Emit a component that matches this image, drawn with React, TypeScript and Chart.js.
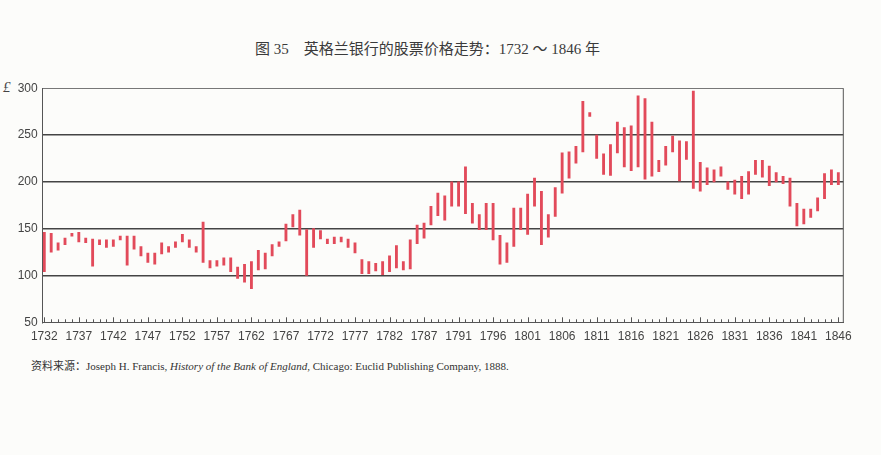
import { useEffect, useRef } from "react";
import { Chart, registerables } from "chart.js";

Chart.register(...registerables);

// one bar per year, 1732 onward (116 bars as printed)
const lows = [
  104, 125, 127, 133, 142, 136, 135, 110, 133, 130, 131, 138, 111, 128, 121, 114,
  112, 123, 125, 130, 136, 130, 125, 114, 108, 110, 111, 104, 97, 93, 86, 106,
  107, 121, 131, 137, 152, 143, 100, 130, 139, 134, 134, 136, 130, 124, 102, 102,
  105, 101, 104, 108, 106, 107, 134, 140, 154, 164, 159, 174, 174, 166, 156, 149,
  149, 138, 112, 114, 131, 149, 144, 174, 133, 141, 163, 188, 204, 220, 232, 270,
  225, 208, 207, 231, 216, 212, 216, 203, 206, 211, 218, 232, 201, 224, 193, 190,
  197, 200, 206, 192, 187, 182, 187, 208, 205, 196, 200, 198, 174, 153, 155, 162,
  169, 182, 197, 197,
];

const highs = [
  146, 145, 135, 140, 145, 146, 140, 139, 138, 138, 138, 142, 142, 142, 131, 124,
  124, 135, 131, 136, 144, 138, 131, 157, 116, 116, 119, 119, 109, 112, 115, 127,
  124, 133, 136, 155, 165, 170, 149, 150, 148, 139, 141, 141, 139, 135, 117, 115,
  113, 115, 121, 132, 115, 138, 154, 156, 174, 188, 185, 200, 200, 216, 177, 165,
  177, 177, 143, 135, 172, 172, 187, 204, 190, 165, 194, 231, 232, 238, 286, 274,
  250, 230, 240, 264, 258, 260, 292, 289, 264, 223, 238, 249, 244, 243, 297, 221,
  215, 213, 216, 200, 202, 206, 211, 223, 223, 217, 210, 206, 204, 177, 171, 171,
  183, 209, 213, 210,
];

// labels printed under every fifth bar
const tickLabels = [
  "1732", "1737", "1742", "1747", "1752", "1757", "1762", "1767", "1772", "1777",
  "1782", "1787", "1791", "1796", "1801", "1806", "1811", "1816", "1821", "1826",
  "1831", "1836", "1841", "1846",
];

const yTicks = [50, 100, 150, 200, 250, 300];

const frameAndTicks = {
  id: "frameAndTicks",
  afterDatasetsDraw(chart: any) {
    const { ctx, chartArea, scales } = chart;
    const x = scales.x;
    ctx.save();
    ctx.strokeStyle = "#555";
    ctx.lineWidth = 1;
    ctx.beginPath();
    ctx.moveTo(chartArea.right, chartArea.top);
    ctx.lineTo(chartArea.right, chartArea.bottom);
    for (let i = 0; i < highs.length; i++) {
      const px = Math.round(x.getPixelForValue(i)) + 0.5;
      const len = i % 5 === 0 ? 5 : 3;
      ctx.moveTo(px, chartArea.bottom);
      ctx.lineTo(px, chartArea.bottom - len);
    }
    ctx.stroke();
    ctx.restore();
  },
};

export default function App() {
  const chartRef = useRef<HTMLCanvasElement | null>(null);

  useEffect(() => {
    if (!chartRef.current) return;
    const ctx = chartRef.current.getContext("2d");
    if (!ctx) return;

    const data = {
      datasets: [
        {
          label: "股票价格",
          data: highs.map((h, i) => ({ x: i, y: [lows[i], h] })),
          backgroundColor: "#e24a5a",
          borderWidth: 0,
          barThickness: 2.2,
        },
      ],
    };

    const chart = new Chart(ctx, {
      type: "bar",
      data,
      options: {
        animation: false,
        responsive: true,
        maintainAspectRatio: false,
        layout: { padding: { left: 0, right: 37.7, top: 8.3, bottom: 0 } },
        plugins: { legend: { display: false }, tooltip: { enabled: false } },
        scales: {
          x: {
            type: "linear",
            offset: false,
            min: -0.23,
            max: 115.72,
            afterBuildTicks: (scale: any) => {
              scale.ticks = tickLabels.map((_, k) => ({ value: k * 5 }));
            },
            afterFit: (scale: any) => {
              scale.height = 27.7;
              scale.paddingLeft = 0;
              scale.paddingRight = 0;
            },
            grid: { display: false, drawTicks: false, offset: false },
            border: { display: true, color: "#555", width: 1 },
            ticks: {
              autoSkip: false,
              maxRotation: 0,
              padding: 7,
              color: "#444",
              font: { family: "'Liberation Sans', Arial, sans-serif", size: 12 },
              callback: (_v: any, index: number) => tickLabels[index],
            },
          },
          y: {
            min: 50,
            max: 300,
            afterBuildTicks: (scale: any) => {
              scale.ticks = yTicks.map((v) => ({ value: v }));
            },
            afterFit: (scale: any) => {
              scale.width = 42.7;
              scale.paddingTop = 0;
              scale.paddingBottom = 0;
            },
            grid: {
              drawTicks: false,
              color: (c: any) => {
                const v = c.tick && c.tick.value;
                if (v === 50) return "rgba(0,0,0,0)";
                return v === 300 ? "#777" : "#444";
              },
              lineWidth: (c: any) => (c.tick && c.tick.value === 300 ? 1.1 : 1.5),
            },
            border: { display: true, color: "#555", width: 1 },
            ticks: {
              padding: 5,
              color: "#444",
              font: { family: "'Liberation Sans', Arial, sans-serif", size: 12 },
            },
          },
        },
      },
      plugins: [frameAndTicks],
    } as any);

    return () => {
      chart.destroy();
    };
  }, []);

  return (
    <div
      style={{
        position: "absolute",
        left: 0,
        top: 0,
        width: 881,
        height: 455,
        background: "#fcfcfa",
        overflow: "hidden",
      }}
    >
      <div
        style={{
          position: "absolute",
          left: 255,
          top: 39,
          whiteSpace: "nowrap",
          fontFamily: "'Liberation Serif', 'Noto Sans CJK SC', serif",
          fontSize: 15,
          lineHeight: "20px",
          color: "#3a3a3a",
        }}
      >
        图 35{"\u3000"}英格兰银行的股票价格走势：1732 ～ 1846 年
      </div>
      <span
        style={{
          position: "absolute",
          left: 3,
          top: 79,
          fontFamily: "'Liberation Serif', serif",
          fontStyle: "italic",
          fontSize: 15,
          lineHeight: "16px",
          color: "#444",
        }}
      >
        £
      </span>
      <div style={{ position: "absolute", left: 0, top: 80, width: 881, height: 270 }}>
        <canvas ref={chartRef}></canvas>
      </div>
      <div
        style={{
          position: "absolute",
          left: 31,
          top: 359,
          whiteSpace: "nowrap",
          fontFamily: "'Liberation Serif', 'Noto Sans CJK SC', serif",
          fontSize: 11,
          lineHeight: "14px",
          color: "#333",
        }}
      >
        资料来源：Joseph H. Francis, <i>History of the Bank of England</i>, Chicago: Euclid
        Publishing Company, 1888.
      </div>
    </div>
  );
}
